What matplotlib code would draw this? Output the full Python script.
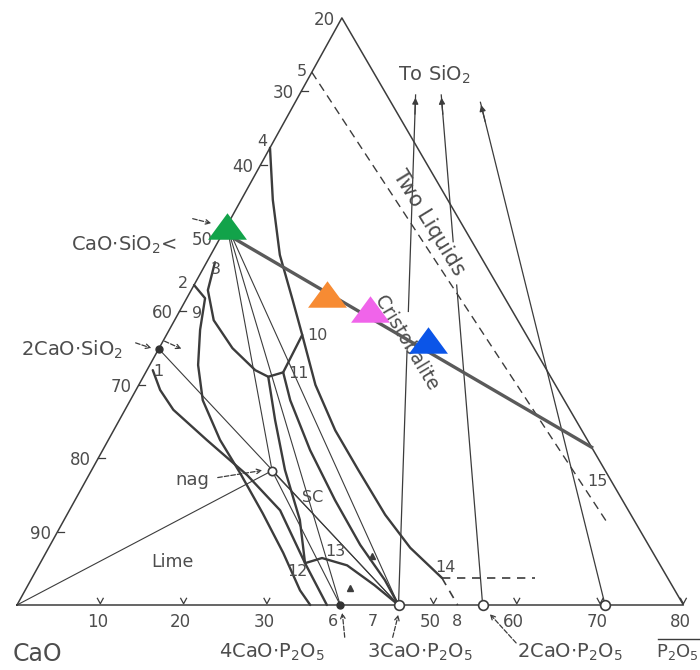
import matplotlib
matplotlib.use("Agg")
import matplotlib.pyplot as plt
import numpy as np

# ---------------------------------------------------------------------------
# Ternary helper: composition (wt% P2O5, wt% SiO2) -> plot coordinates.
# ---------------------------------------------------------------------------
SKEW = 0.4875
HEIGHT = 0.881
PX = 8.33          # plot units -> pixels
X0, Y0 = 17, 605   # CaO corner in pixels


def tern(p, s):
    p = np.asarray(p, float)
    s = np.asarray(s, float)
    return p + SKEW * s, HEIGHT * s


def px(x, y):
    # pixel position of a label -> plot coordinates
    return (x - X0) / PX, (Y0 - y) / PX


# ---------------------------------------------------------------------------
# Data
# ---------------------------------------------------------------------------
CAO_TICKS = [20, 30, 40, 50, 60, 70, 80, 90]
P2O5_TICKS = [10, 20, 30, 50, 60, 70, 80]

FRAME_P = [0, 80, 0, 0]
FRAME_S = [0, 0, 80, 0]

# compounds
CAO = (0.0, 0.0)
CS = (0.0, 51.7)       # CaO.SiO2
C2S = (0.0, 34.9)      # 2CaO.SiO2
C4P = (38.8, 0.0)      # 4CaO.P2O5
C3P = (45.8, 0.0)      # 3CaO.P2O5
C2P = (55.9, 0.0)      # 2CaO.P2O5
CP = (70.6, 0.0)
NAG = (21.7, 18.3)     # nagelschmidtite
SC = (29.5, 12.4)      # silicocarnotite

# boundary curves (heavy)
B1_P = [0, 3.8, 8.3, 12.8, 16.3, 21.2, 26.6, 32.0, 38.2, 43.4, 49.2]
B1_S = [62.3, 55.2, 47.7, 41.6, 36.8, 30.0, 23.8, 18.4, 12.3, 7.8, 3.7]
B2_P = [1.0, 2.0, 4.7, 8.8, 13.0, 15.0, 16.5, 16.3]
B2_S = [46.7, 42.9, 38.8, 35.0, 32.0, 31.1, 31.7, 36.8]
B3_P = [0.0, 2.2, 3.7, 5.8, 8.7, 13.4, 18.0, 23.4, 28.5, 33.0, 35.2]
B3_S = [43.6, 41.8, 37.5, 32.7, 27.9, 22.5, 18.0, 12.5, 7.1, 2.0, 0]
B4_P = [0.7, 2.9, 5.8, 11.8, 19.0, 25.3, 31.8, 37.2]
B4_S = [32.0, 29.3, 26.6, 22.5, 17.7, 12.9, 5.7, 0]
B5_P = [31.8, 33.5, 37.0, 41.6, 45.8]
B5_S = [5.7, 6.4, 5.4, 2.7, 0]
B6_P = [16.5, 19.2, 24.9, 31.2, 37.2, 42.5, 45.8]
B6_S = [31.7, 27.9, 21.1, 14.3, 8.2, 3.4, 0]
B7_P = [15.0, 18.7, 23.2, 28.3, 31.8]
B7_S = [31.1, 25.2, 18.4, 11.6, 5.7]
HEAVY = [(B1_P, B1_S), (B2_P, B2_S), (B3_P, B3_S), (B4_P, B4_S),
         (B5_P, B5_S), (B6_P, B6_S), (B7_P, B7_S)]

# tie lines (light)
TIES = [(CAO, NAG), (C2S, C3P), (CS, C4P), (CS, C3P), (CS, NAG),
        (NAG, C4P), (SC, C3P), (NAG, SC)]

# two-liquid boundary (dashed)
TWO_LIQ_P = [0.0, 65.3]
TWO_LIQ_S = [72.6, 11.3]

# point 14 dashed lines
D14_P = [[49.2, 60.4], [49.2, 52.9]]
D14_S = [[3.7, 3.7], [3.7, 0.0]]

# joins toward SiO2 (start compound, top of arrow, text gap)
SIO2_JOINS = [(C3P, 69.5, (40.0, 34.5)), (C2P, 69.5, (49.5, 43.6)), (CP, 68.5, None)]

# small arrowheads on boundaries near point 13
ARROW_P = [39.4, 38.8]
ARROW_S = [6.7, 2.3]

# plotted compositions
LINE_P = [0.8, 58.5]
LINE_S = [50.4, 21.5]
MARK_P = [0.0, 16.6, 22.7, 31.7]
MARK_S = [51.7, 42.4, 40.3, 36.1]
MARK_COLORS = ["#12a34a", "#f78b33", "#f064ea", "#0b55e8"]

# ---------------------------------------------------------------------------
plt.rcParams["font.family"] = ["DejaVu Sans"]
plt.rcParams["mathtext.default"] = "regular"
INK = "#3c3c3c"
TXT = "#4d4d4d"

fig = plt.figure(figsize=(7, 6.7), dpi=100)
ax = fig.add_axes([0, 0, 1, 1])
ax.set_xlim(-X0 / PX, (700 - X0) / PX)
ax.set_ylim((Y0 - 670) / PX, Y0 / PX)
ax.axis("off")

# frame
ax.plot(*tern(FRAME_P, FRAME_S), color=INK, lw=1.1)

# ticks on CaO-SiO2 edge
for c in CAO_TICKS:
    x, y = tern(0, 100 - c)
    if c > 20:
        ax.plot([x, x + 0.8], [y, y], color=INK, lw=0.9)
    ax.annotate(str(c), (x, y), xytext=(-7, -2), textcoords="offset pixels",
                ha="right", va="center", fontsize=12, color=TXT)

# ticks on CaO-P2O5 edge
for p in P2O5_TICKS:
    x, y = tern(p, 0)
    ax.plot([x - 0.35, x, x + 0.35], [0.8, 0.15, 0.8], color=INK, lw=0.9)
    ax.annotate(str(p), (x, y), xytext=(-3, -17), textcoords="offset pixels",
                ha="center", va="center", fontsize=12, color=TXT)

# heavy boundary curves
for bp, bs in HEAVY:
    ax.plot(*tern(bp, bs), color=INK, lw=1.7, solid_capstyle="round")

# tie lines
for a, b in TIES:
    ax.plot(*tern([a[0], b[0]], [a[1], b[1]]), color=INK, lw=0.8)

# joins to SiO2
for comp, s_top, gap in SIO2_JOINS:
    pts = [0.0, s_top] if gap is None else [0.0, gap[1], gap[0], s_top]
    for s0, s1 in zip(pts[::2], pts[1::2]):
        ss = np.array([s0, s1])
        pp = comp[0] * (1 - ss / 100)
        ax.plot(*tern(pp, ss), color=INK, lw=0.9)
    ps = comp[0] * (1 - s_top / 100)
    xa, ya = tern(ps, s_top)
    xb, yb = tern(comp[0] * (1 - (s_top - 3) / 100), s_top - 3)
    ax.annotate("", xy=(xa, ya), xytext=(xb, yb),
                arrowprops=dict(arrowstyle="-|>", color=INK, lw=0.9,
                                mutation_scale=9))

# two liquids boundary
ax.plot(*tern(TWO_LIQ_P, TWO_LIQ_S), color=INK, lw=1.0, ls=(0, (6, 4)))
for dp, ds in zip(D14_P, D14_S):
    ax.plot(*tern(dp, ds), color=INK, lw=1.2, ls=(0, (5, 4)))

ax.plot(*tern(ARROW_P, ARROW_S), "^", ms=5, color=INK, ls="none")

# compound points
for comp in (C2S, C4P):
    ax.plot(*tern(*comp), "o", ms=5, color="#333333")
for comp in (C3P, C2P, CP):
    ax.plot(*tern(*comp), "o", ms=7, mfc="white", mec=INK, mew=1.2)
ax.plot(*tern(*NAG), "o", ms=6, mfc="white", mec=INK, mew=1.2)

# text
def label(s, x, y, size=11, **kw):
    ax.text(*px(x, y), s, fontsize=size, color=TXT, ha="center", va="center", **kw)

for s, x, y in [("5", 302, 72), ("4", 262, 142), ("3", 216, 270), ("2", 183, 283),
                ("9", 197, 313), ("1", 158, 372), ("10", 317, 335), ("11", 298, 374),
                ("SC", 313, 498), ("12", 297, 572), ("13", 335, 552), ("14", 445, 567),
                ("15", 597, 482), ("6", 333, 622), ("7", 373, 622), ("8", 457, 622)]:
    label(s, x, y, 11.5)

label("Lime", 172, 562, 12.5)
label("nag", 192, 480, 13)
label("To SiO$_2$", 434, 75, 14)
label("Two Liquids", 429, 223, 15, rotation=-58.5)
label("Cristobalite", 406, 343, 13.5, rotation=-59)
label("CaO", 37, 654, 17)
label("4CaO$\\cdot$P$_2$O$_5$", 272, 652, 14)
label("3CaO$\\cdot$P$_2$O$_5$", 420, 652, 14)
label("2CaO$\\cdot$P$_2$O$_5$", 570, 652, 14)
label("P$_2$O$_5$", 677, 652, 13)
label("CaO$\\cdot$SiO$_2$<", 124, 245, 14)
label("2CaO$\\cdot$SiO$_2$", 72, 350, 14)

# small dashed pointers
DASH = dict(arrowstyle="->", color=INK, lw=0.9, ls="--", mutation_scale=8)
for (x0, y0), (x1, y1) in [((215, 478), (265, 470)), ((133, 342), (154, 349)),
                           ((162, 340), (184, 350)), ((345, 640), (342, 610)),
                           ((392, 640), (399, 612)), ((518, 645), (488, 612)),
                           ((190, 218), (214, 224))]:
    ax.annotate("", xy=px(x1, y1), xytext=px(x0, y0), arrowprops=DASH)
ax.plot([px(658, 0)[0], px(700, 0)[0]], [px(0, 639)[1]] * 2, color=INK, lw=1.0)

# the plotted line and points
ax.plot(*tern(LINE_P, LINE_S), color="#5a5a5a", lw=2.4, zorder=4)
TRI = [(-1, -0.68), (1, -0.68), (0, 0.68)]
for p, s, c in zip(MARK_P, MARK_S, MARK_COLORS):
    ax.plot(*tern(p, s), marker=TRI, ms=28, color=c, mew=0, zorder=5)

fig.savefig("out.png", dpi=100, facecolor="white")
